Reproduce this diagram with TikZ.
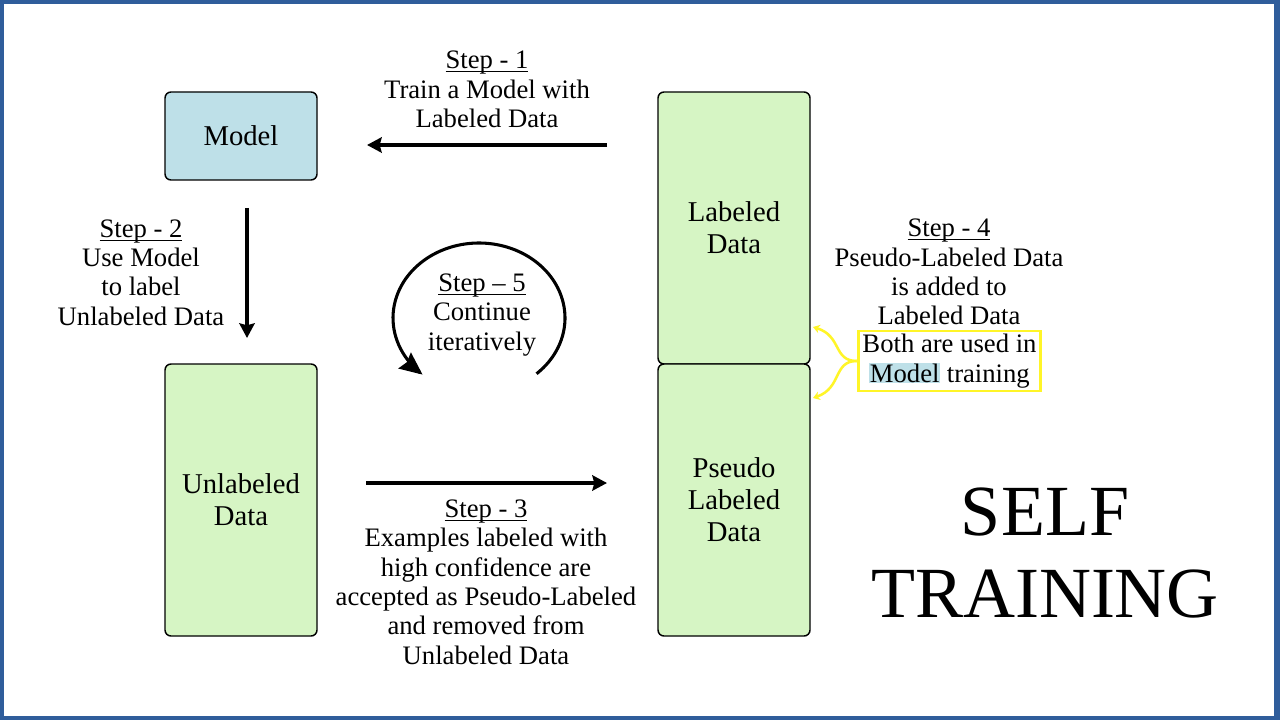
\documentclass[tikz,border=0pt]{standalone}
\usepackage{fontspec}
\setmainfont{Liberation Serif}
\usetikzlibrary{arrows.meta}
\definecolor{bordercol}{RGB}{47,93,155}
\definecolor{modelblue}{RGB}{190,224,232}
\definecolor{datagreen}{RGB}{214,245,196}
\definecolor{hlyellow}{RGB}{255,245,40}
\newcommand\myul[1]{\setbox0\hbox{#1}\rlap{\rule[-2.6pt]{\wd0}{0.8pt}}\box0}
\tikzset{
  box/.style={draw=black, line width=1.1pt, rounded corners=4.5pt, inner sep=0pt, align=center, font=\fontsize{21.5}{24}\selectfont},
  steptext/.style={inner sep=0pt, align=center, font=\fontsize{20}{22}\selectfont},
  bigarrow/.style={line width=2.3pt, -{Stealth[length=11pt,width=11.5pt,inset=1.5pt]}},
  ybrace/.style={draw=hlyellow, line width=1.9pt, -{Stealth[length=5pt,width=6.5pt]}},
}
\begin{document}
\begin{tikzpicture}[x=0.75pt,y=-0.75pt]
\useasboundingbox (0,0) rectangle (1280,720);
\fill[bordercol] (0,0) rectangle (1280,720);
\fill[white] (4,4) rectangle (1274,716);

% boxes
\node[box, fill=modelblue, minimum width=114pt, minimum height=66pt] (model) at (241,136) {Model};
\node[box, fill=datagreen, minimum width=114pt, minimum height=204pt] (labeled) at (734,228) {Labeled\\Data};
\node[box, fill=datagreen, minimum width=114pt, minimum height=204pt] (pseudo) at (734,500) {Pseudo\\Labeled\\Data};
\node[box, fill=datagreen, minimum width=114pt, minimum height=204pt] (unlabeled) at (241,500) {Unlabeled\\Data};

% step texts
\node[steptext] (s1) at (487,89.5) {\myul{Step - 1}\\Train a Model with\\Labeled Data};
\node[steptext] (s2) at (141,272.5) {\myul{Step - 2}\\Use Model\\to label\\Unlabeled Data};
\node[steptext] (s5) at (482,315) {\myul{Step -- 5}\\Continue\\iteratively};
\node[steptext] (s3) at (486,582) {\myul{Step - 3}\\Examples labeled with\\high confidence are\\accepted as Pseudo-Labeled\\and removed from\\Unlabeled Data};
\node[steptext] (s4) at (949,272) {\myul{Step - 4}\\Pseudo-Labeled Data\\is added to\\Labeled Data};
\node[steptext, draw=hlyellow, line width=2.2pt, minimum width=137pt, minimum height=45pt] (yb) at (949.5,361) {Both are used in\\{\setlength{\fboxsep}{0.5pt}\colorbox{modelblue}{Model}} training};

\node[inner sep=0pt, align=center, font=\fontsize{54}{61.5}\selectfont] (title) at (1045,553) {SELF\\TRAINING};

% arrows
\coordinate (a1s) at (607,145);
\coordinate (a1e) at (367,145);
\draw[bigarrow] (a1s) -- (a1e);
\coordinate (a2s) at (247,208);
\coordinate (a2e) at (247,338);
\draw[bigarrow] (a2s) -- (a2e);
\coordinate (a3s) at (366,483);
\coordinate (a3e) at (607,483);
\draw[bigarrow] (a3s) -- (a3e);

% circular arrow
\draw[line width=2.3pt, -{Stealth[length=17pt,width=15pt,inset=2pt]}]
  plot[domain=48:-229, samples=90, smooth] ({479+86*cos(\x)},{318+75*sin(\x)});

% yellow brace
\coordinate (bt) at (813,327);
\coordinate (bb) at (813,398);
\draw[ybrace] (yb.west) .. controls (833,361) and (842,336) .. (bt);
\draw[ybrace] (yb.west) .. controls (833,361) and (842,388) .. (bb);
\end{tikzpicture}
\end{document}
